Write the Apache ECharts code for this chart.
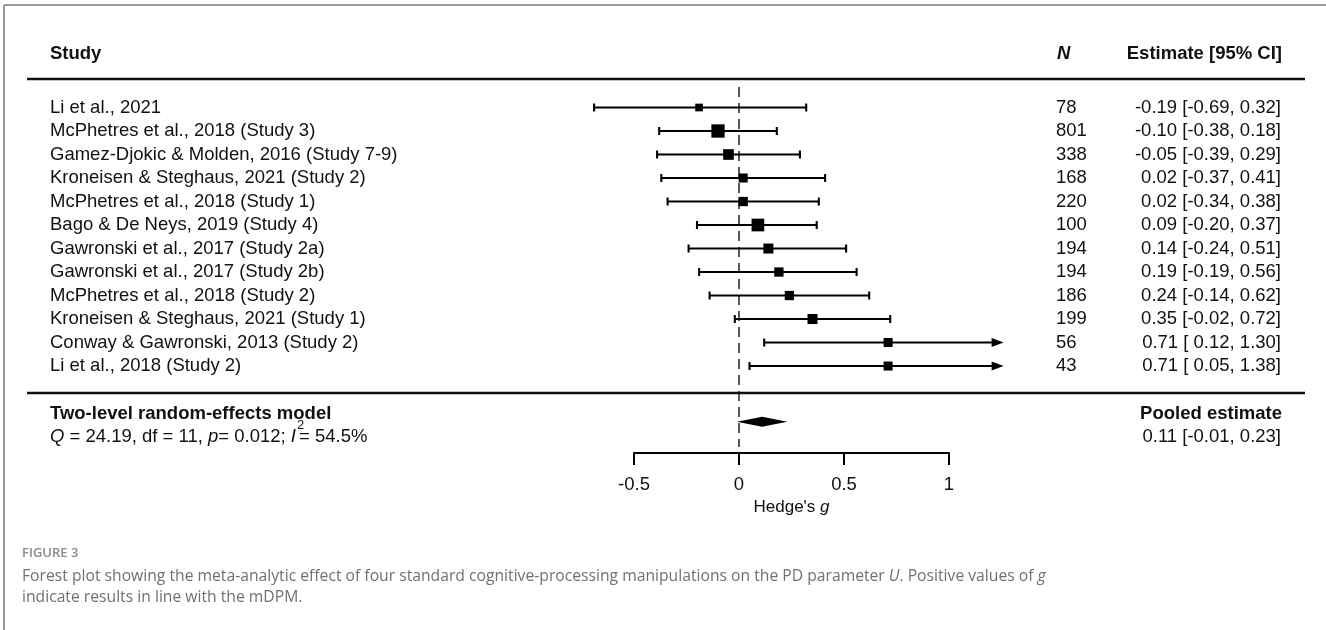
<!DOCTYPE html>
<html>
<head>
<meta charset="utf-8">
<script src="https://cdn.jsdelivr.net/npm/echarts@6/dist/echarts.min.js"></script>
<style>
html,body{margin:0;padding:0;background:#fff;}
#chart{width:1326px;height:630px;}
</style>
</head>
<body>
<div id="chart"></div>
<script>
var studies = [
    'Li et al., 2021',
    'McPhetres et al., 2018 (Study 3)',
    'Gamez-Djokic & Molden, 2016 (Study 7-9)',
    'Kroneisen & Steghaus, 2021 (Study 2)',
    'McPhetres et al., 2018 (Study 1)',
    'Bago & De Neys, 2019 (Study 4)',
    'Gawronski et al., 2017 (Study 2a)',
    'Gawronski et al., 2017 (Study 2b)',
    'McPhetres et al., 2018 (Study 2)',
    'Kroneisen & Steghaus, 2021 (Study 1)',
    'Conway & Gawronski, 2013 (Study 2)',
    'Li et al., 2018 (Study 2)'
];
var sampleN  = [78, 801, 338, 168, 220, 100, 194, 194, 186, 199, 56, 43];
var estimate = [-0.19, -0.10, -0.05, 0.02, 0.02, 0.09, 0.14, 0.19, 0.24, 0.35, 0.71, 0.71];
var lower    = [-0.69, -0.38, -0.39, -0.37, -0.34, -0.20, -0.24, -0.19, -0.14, -0.02, 0.12, 0.05];
var upper    = [0.32, 0.18, 0.29, 0.41, 0.38, 0.37, 0.51, 0.56, 0.62, 0.72, 1.30, 1.38];
// relative weights (%), estimated from the square sizes
var weights  = [4.9, 14.6, 9.4, 6.7, 7.1, 13.3, 8.3, 7.1, 7.1, 8.3, 6.7, 6.7];
var pooled   = [0.11, -0.01, 0.23];   // estimate, lower, upper
var xTicks   = [-0.5, 0, 0.5, 1];
var xClip    = 1.26;                   // CIs beyond this end in an arrow
var modelStats = {Q: '24.19', df: '11', p: '0.012', I2: '54.5%'};

var FONT = '"Liberation Sans", Arial, Helvetica, sans-serif';
var CAPFONT = '"Open Sans", "Noto Sans", sans-serif';
var FS = 18.5;
var summaryRow = 13.37;

function fmt(v) { return v.toFixed(2); }
function ciText(e, lo, hi) {
    return fmt(e) + ' [' + (lo < 0 ? '' : ' ') + fmt(lo) + ', ' + fmt(hi) + ']';
}
function textW(str, font) {
    var c = textW.c || (textW.c = document.createElement('canvas').getContext('2d'));
    c.font = font;
    return c.measureText(str).width;
}

var rows = studies.map(function (s, i) {
    return [i, estimate[i], lower[i], upper[i], weights[i]];
});

var chart = echarts.init(document.getElementById('chart'));

function renderRow(params, api) {
    var i = api.value(0), e = api.value(1), lo = api.value(2), hi = api.value(3), w = api.value(4);
    var y = api.coord([0, i])[1];
    var x0 = api.coord([lo, i])[0];
    var arrow = hi > xClip;
    var x1 = api.coord([arrow ? xClip : hi, i])[0];
    var xe = api.coord([e, i])[0];
    var s = 3.48 * Math.sqrt(w);
    var st = {stroke: '#000', lineWidth: 2.1};
    var kids = [
        {type: 'line', shape: {x1: x0, y1: y, x2: arrow ? x1 - 10 : x1, y2: y}, style: st},
        {type: 'line', shape: {x1: x0, y1: y - 4, x2: x0, y2: y + 4}, style: st}
    ];
    if (arrow) {
        kids.push({type: 'polygon', shape: {points: [[x1 - 12, y - 4.5], [x1, y], [x1 - 12, y + 4.5]]}, style: {fill: '#000'}});
    } else {
        kids.push({type: 'line', shape: {x1: x1, y1: y - 4, x2: x1, y2: y + 4}, style: st});
    }
    kids.push({type: 'rect', shape: {x: xe - s / 2, y: y - s / 2, width: s, height: s}, style: {fill: '#000'}});
    var ts = {font: FS + 'px ' + FONT, fill: '#111', textVerticalAlign: 'middle'};
    kids.push({type: 'text', style: Object.assign({text: studies[i], x: 50, y: y, textAlign: 'left'}, ts)});
    kids.push({type: 'text', style: Object.assign({text: String(sampleN[i]), x: 1056, y: y, textAlign: 'left'}, ts)});
    kids.push({type: 'text', style: Object.assign({text: ciText(e, lo, hi), x: 1281, y: y, textAlign: 'right'}, ts)});
    return {type: 'group', children: kids};
}

function renderPooled(params, api) {
    var e = api.value(0), lo = api.value(1), hi = api.value(2);
    var y = api.coord([0, summaryRow])[1];
    var xl = api.coord([lo, 0])[0], xr = api.coord([hi, 0])[0], xe = api.coord([e, 0])[0];
    var reg = FS + 'px ' + FONT, bold = 'bold ' + FS + 'px ' + FONT, ital = 'italic ' + FS + 'px ' + FONT;
    var kids = [
        {type: 'polygon', shape: {points: [[xl, y], [xe, y - 5], [xr, y], [xe, y + 5]]}, style: {fill: '#000'}},
        {type: 'text', style: {text: 'Two-level random-effects model', x: 50, y: y - 8, font: bold, fill: '#111', textVerticalAlign: 'middle'}},
        {type: 'text', style: {text: 'Pooled estimate', x: 1282, y: y - 8, font: bold, fill: '#111', textAlign: 'right', textVerticalAlign: 'middle'}},
        {type: 'text', style: {text: ciText(e, lo, hi), x: 1281, y: y + 15, font: reg, fill: '#111', textAlign: 'right', textVerticalAlign: 'middle'}}
    ];
    // Q = .., df = .., p= ..; I^2= ..
    var parts = [
        ['Q', ital], [' = ' + modelStats.Q + ', df = ' + modelStats.df + ', ', reg],
        ['p', ital], ['= ' + modelStats.p + '; ', reg], ['I', ital]
    ];
    var x = 50, yq = y + 15;
    parts.forEach(function (p) {
        kids.push({type: 'text', style: {text: p[0], x: x, y: yq, font: p[1], fill: '#111', textVerticalAlign: 'middle'}});
        x += textW(p[0], p[1]);
    });
    kids.push({type: 'text', style: {text: '2', x: x + 1, y: yq - 11, font: '13px ' + FONT, fill: '#111', textVerticalAlign: 'middle'}});
    kids.push({type: 'text', style: {text: '= ' + modelStats.I2, x: x + 3, y: yq, font: reg, fill: '#111', textVerticalAlign: 'middle'}});
    return {type: 'group', children: kids};
}

function renderZero(params, api) {
    var a = api.coord([0, -0.87]), b = api.coord([0, 14.45]);
    return {type: 'line', shape: {x1: a[0], y1: a[1], x2: b[0], y2: b[1]},
        style: {stroke: '#000', lineWidth: 1.3, lineDash: [10, 6]}};
}

var option = {
    animation: false,
    backgroundColor: '#fff',
    grid: {left: 634, right: 377, top: 84, bottom: 177},
    xAxis: {
        type: 'value', min: xTicks[0], max: xTicks[xTicks.length - 1], interval: 0.5,
        axisLine: {show: true, onZero: false, lineStyle: {color: '#000', width: 2}},
        axisTick: {show: true, length: 12, lineStyle: {color: '#000', width: 2}},
        axisLabel: {fontSize: FS, fontFamily: FONT, color: '#111', margin: 22,
            formatter: function (v) { return String(v); }},
        splitLine: {show: false},
        name: "{n|Hedge's }{g|g}", nameLocation: 'middle', nameGap: 39,
        nameTextStyle: {rich: {
            n: {fontSize: 17, fontFamily: FONT, color: '#111'},
            g: {fontSize: 17, fontFamily: FONT, fontStyle: 'italic', color: '#111'}
        }}
    },
    yAxis: {type: 'value', inverse: true, min: -1, max: 14.7, show: false},
    series: [
        {type: 'custom', clip: false, renderItem: renderZero, data: [[0]], silent: true},
        {type: 'custom', clip: false, renderItem: renderRow, data: rows, silent: true},
        {type: 'custom', clip: false, renderItem: renderPooled, data: [pooled], silent: true}
    ],
    graphic: [
        {type: 'line', shape: {x1: 4, y1: 5, x2: 1326, y2: 5}, style: {stroke: '#999', lineWidth: 2}},
        {type: 'line', shape: {x1: 4, y1: 5, x2: 4, y2: 630}, style: {stroke: '#999', lineWidth: 2}},
        {type: 'text', x: 50, y: 54, style: {text: 'Study', font: 'bold ' + FS + 'px ' + FONT, fill: '#111', textVerticalAlign: 'middle'}},
        {type: 'text', x: 1057, y: 54, style: {text: 'N', font: 'italic bold ' + FS + 'px ' + FONT, fill: '#111', textVerticalAlign: 'middle'}},
        {type: 'text', x: 1282, y: 54, style: {text: 'Estimate [95% CI]', font: 'bold ' + FS + 'px ' + FONT, fill: '#111', textAlign: 'right', textVerticalAlign: 'middle'}},
        {type: 'line', shape: {x1: 27, y1: 79, x2: 1305, y2: 79}, style: {stroke: '#111', lineWidth: 2.5}},
        {type: 'line', shape: {x1: 27, y1: 393, x2: 1305, y2: 393}, style: {stroke: '#111', lineWidth: 2.5}},
        {type: 'text', x: 22, y: 553, style: {text: 'FIGURE 3', font: '600 13px ' + CAPFONT, fill: '#8a8a8a', textVerticalAlign: 'middle'}},
        {type: 'text', x: 22, y: 577, style: {
            text: 'Forest plot showing the meta-analytic effect of four standard cognitive-processing manipulations on the PD parameter {i|U}. Positive values of {i|g}',
            font: '15.7px ' + CAPFONT, fill: '#707070', textVerticalAlign: 'middle',
            rich: {i: {fontStyle: 'italic', fontSize: 15.7, fontFamily: CAPFONT, fill: '#707070'}}}},
        {type: 'text', x: 22, y: 598, style: {text: 'indicate results in line with the mDPM.', font: '15.7px ' + CAPFONT, fill: '#707070', textVerticalAlign: 'middle'}}
    ]
};
chart.setOption(option);
</script>
</body>
</html>
